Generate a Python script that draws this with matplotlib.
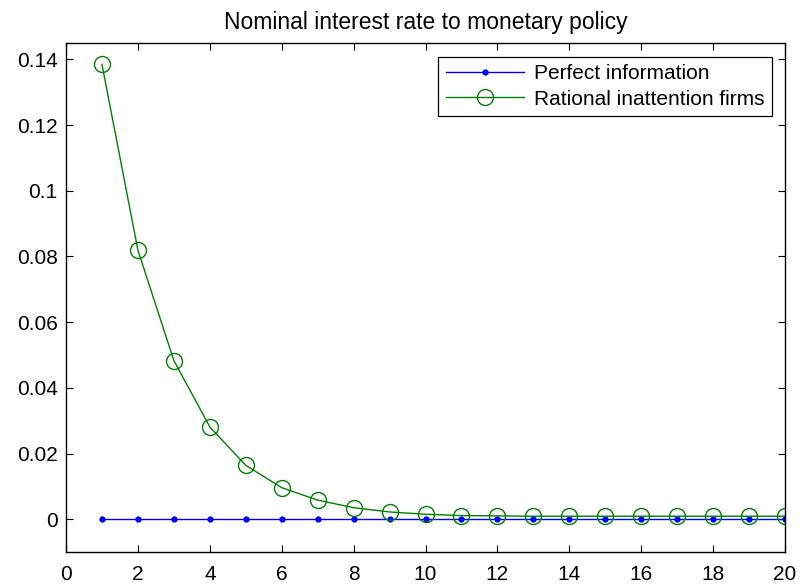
import matplotlib
matplotlib.use("Agg")
import matplotlib.pyplot as plt

plt.rcParams["font.family"] = ["Liberation Sans", "DejaVu Sans"]
plt.rcParams["font.size"] = 15

# Horizon (periods)
periods = list(range(1, 21))

# Perfect information response
perfect = [0.0] * 20

# Rational inattention firms response
rational = [0.1385, 0.0819, 0.0483, 0.0281, 0.0164, 0.0096, 0.0058, 0.0035,
            0.0022, 0.0015, 0.0011, 0.0010, 0.0009, 0.0009, 0.0009, 0.0009,
            0.0009, 0.0009, 0.0009, 0.0009]

xticks = list(range(0, 21, 2))
yticks = [0, 0.02, 0.04, 0.06, 0.08, 0.1, 0.12, 0.14]
ytick_labels = ["0", "0.02", "0.04", "0.06", "0.08", "0.1", "0.12", "0.14"]

fig = plt.figure(figsize=(8.11, 5.88), dpi=100)
ax = fig.add_axes([0.0814, 0.0612, 0.8866, 0.8656])

ax.plot(periods, perfect, color="#0000ff", linewidth=1.0, marker=".",
        markersize=7, label="Perfect information")
ax.plot(periods, rational, color="#008000", linewidth=1.0, marker="o",
        markersize=11.5, markerfacecolor="none", markeredgewidth=1.0,
        label="Rational inattention firms")

ax.set_xlim(0, 20)
ax.set_ylim(-0.01, 0.145)
ax.set_xticks(xticks)
ax.set_yticks(yticks)
ax.set_yticklabels(ytick_labels)
ax.tick_params(direction="in", top=True, right=True, length=5, width=0.8,
               labelsize=15)
ax.tick_params(axis="y", pad=6)
ax.tick_params(axis="x", pad=9.5)
for s in ax.spines.values():
    s.set_linewidth(1.0)

ax.set_title("Nominal interest rate to monetary policy", fontsize=16.5, pad=10)

leg = ax.legend(loc="upper right", bbox_to_anchor=(0.9819, 0.9725),
                borderaxespad=0, fancybox=False, edgecolor="black",
                framealpha=1, fontsize=15, handlelength=3.75,
                handletextpad=0.5, borderpad=0.35, labelspacing=0.3)
leg.get_frame().set_linewidth(0.9)

fig.savefig("out.png", dpi=100)
